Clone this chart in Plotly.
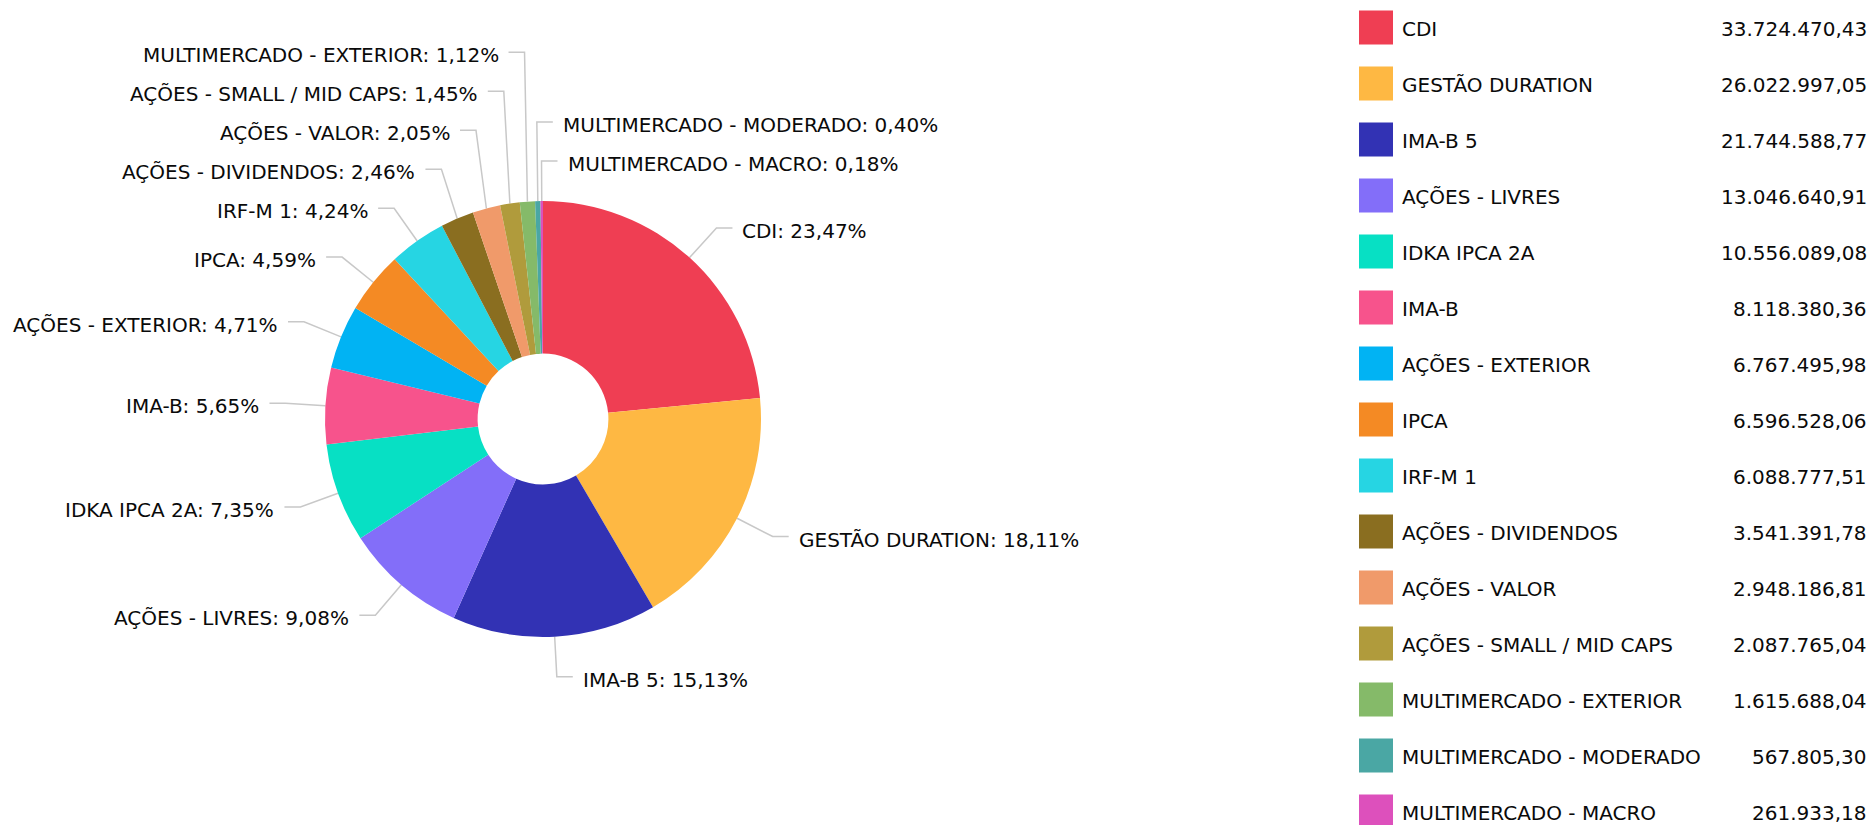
import math
import plotly.graph_objects as go

# ---------------- data ----------------
categories = [
    "CDI", "GESTÃO DURATION", "IMA-B 5", "AÇÕES - LIVRES", "IDKA IPCA 2A", "IMA-B",
    "AÇÕES - EXTERIOR", "IPCA", "IRF-M 1", "AÇÕES - DIVIDENDOS", "AÇÕES - VALOR",
    "AÇÕES - SMALL / MID CAPS", "MULTIMERCADO - EXTERIOR", "MULTIMERCADO - MODERADO",
    "MULTIMERCADO - MACRO",
]
values = [
    33724470.43, 26022997.05, 21744588.77, 13046640.91, 10556089.08, 8118380.36,
    6767495.98, 6596528.06, 6088777.51, 3541391.78, 2948186.81,
    2087765.04, 1615688.04, 567805.30,
    261933.18,
]
colors = [
    "#ef3e53", "#feb843", "#3232b4", "#836ef9", "#07e0c4", "#f7538c",
    "#01b3f3", "#f48a24", "#26d5e3", "#8a6e20", "#f09a6a",
    "#b09b3c", "#85ba69", "#4aa7a4", "#dd50bc",
]

# ---------------- layout constants (pixels) ----------------
W, H = 1874, 825
CX, CY, R = 543, 419, 218
HOLE = 0.30
L1, L2, GAP, SPACING = 40, 16, 8, 39
TOP_RIGHT_DEG = 2.0
FONT = "DejaVu Sans"
FS = 20
TXT = "#0a0a0a"
LINE = "#c8c8c8"
LEG_SQ_X, LEG_SQ = 1376, 34
LEG_NAME_X, LEG_VAL_X = 1400, 1869
LEG_Y0, LEG_DY = 27.5, 56


def br_number(v):
    s = f"{v:,.2f}"
    return s.replace(",", "#").replace(".", ",").replace("#", ".")


def br_pct(f):
    return f"{f * 100:.2f}%".replace(".", ",")


total = sum(values)
fracs = [v / total for v in values]

# mid angles (deg, clockwise from 12 o'clock)
mids = []
cum = 0.0
for f in fracs:
    mids.append((cum + f / 2) * 360.0)
    cum += f

side = [1 if (m <= 180 or m >= 360 - TOP_RIGHT_DEG) else -1 for m in mids]
ideal_y = [CY - (R + L1) * math.cos(math.radians(m)) for m in mids]
bend_x = [CX + (R + L1) * math.sin(math.radians(m)) for m in mids]
label_y = list(ideal_y)

# resolve overlaps: walk upward from the bottom on each side
right_idx = sorted([i for i in range(len(mids)) if side[i] > 0],
                   key=lambda i: -(mids[i] if mids[i] <= 180 else mids[i] - 360))
left_idx = sorted([i for i in range(len(mids)) if side[i] < 0], key=lambda i: mids[i])
for order in (right_idx, left_idx):
    prev = None
    for i in order:
        if prev is not None:
            label_y[i] = min(ideal_y[i], prev - SPACING)
        prev = label_y[i]

fig = go.Figure()

# leader lines
lx, ly = [], []
for i, m in enumerate(mids):
    t = math.radians(m)
    p0x, p0y = CX + R * math.sin(t), CY - R * math.cos(t)
    bx, by = bend_x[i], label_y[i]
    hx = bx + side[i] * L2
    lx += [p0x, bx, hx, None]
    ly += [p0y, by, by, None]
fig.add_trace(go.Scatter(x=lx, y=ly, mode="lines", line=dict(color=LINE, width=1.5),
                         hoverinfo="skip", showlegend=False))

# legend squares
fig.add_trace(go.Scatter(
    x=[LEG_SQ_X] * len(categories),
    y=[LEG_Y0 + k * LEG_DY for k in range(len(categories))],
    mode="markers",
    marker=dict(symbol="square", size=LEG_SQ, color=colors, line=dict(width=0)),
    hoverinfo="skip", showlegend=False))

# pie
fig.add_trace(go.Pie(
    labels=categories, values=values, sort=False, direction="clockwise", rotation=0,
    hole=HOLE, textinfo="none",
    marker=dict(colors=colors, line=dict(width=0)),
    domain=dict(x=[(CX - R) / W, (CX + R) / W], y=[1 - (CY + R) / H, 1 - (CY - R) / H]),
    showlegend=False,
))

annotations = []
for i, name in enumerate(categories):
    tx = bend_x[i] + side[i] * (L2 + GAP)
    annotations.append(dict(
        x=tx, y=label_y[i], xref="x", yref="y", showarrow=False,
        xanchor="left" if side[i] > 0 else "right", yanchor="middle", yshift=-3,
        text=f"{name}: {br_pct(fracs[i])}",
        font=dict(family=FONT, size=FS, color=TXT)))
    ry = LEG_Y0 + i * LEG_DY
    annotations.append(dict(
        x=LEG_NAME_X, y=ry, xref="x", yref="y", showarrow=False, xanchor="left",
        yanchor="middle", yshift=-1, text=name, font=dict(family=FONT, size=FS, color=TXT)))
    annotations.append(dict(
        x=LEG_VAL_X, y=ry, xref="x", yref="y", showarrow=False, xanchor="right",
        yanchor="middle", yshift=-1, text=br_number(values[i]),
        font=dict(family=FONT, size=FS, color=TXT)))

fig.update_layout(
    width=W, height=H, margin=dict(l=0, r=0, t=0, b=0),
    paper_bgcolor="white", plot_bgcolor="white", showlegend=False,
    xaxis=dict(range=[0, W], visible=False, fixedrange=True),
    yaxis=dict(range=[H, 0], visible=False, fixedrange=True),
    annotations=annotations,
    font=dict(family=FONT, size=FS, color=TXT),
)

fig.write_html("out.html", config={"displayModeBar": False},
               post_script="document.body.style.margin='0';document.body.style.overflow='hidden';")
